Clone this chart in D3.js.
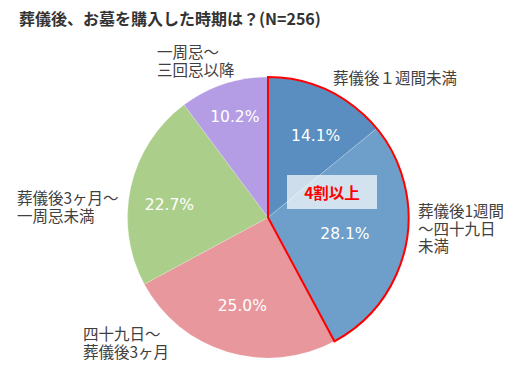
<!DOCTYPE html>
<html><head><meta charset="utf-8">
<script src="https://cdn.jsdelivr.net/npm/d3@7"></script>
<style>body{margin:0;background:#fff}svg{display:block}</style>
</head><body>
<svg id="c" width="525" height="380"></svg>
<script>
const title = "葬儀後、お墓を購入した時期は？(N=256)";
const categories = ["葬儀後１週間未満", "葬儀後1週間～四十九日未満", "四十九日～葬儀後3ヶ月", "葬儀後3ヶ月～一周忌未満", "一周忌～三回忌以降"];
const categoryLines = [["葬儀後１週間未満"], ["葬儀後1週間", "～四十九日", "未満"], ["四十九日～", "葬儀後3ヶ月"], ["葬儀後3ヶ月～", "一周忌未満"], ["一周忌～", "三回忌以降"]];
const values = [14.1, 28.1, 25.0, 22.7, 10.2];
const colors = ["#5a8ec0", "#6d9fca", "#e8979c", "#abcf8b", "#b59de5"];
const highlightLabel = "4割以上";
const highlightCount = 2;

// layout (text anchors, left x / first-line center y)
const labelPos = [[333, 77], [418, 210], [83, 333], [17, 197], [157, 51]];
// small nudges of percent labels from the arc centroid
const pctNudge = [[8, 2], [-14, -2], [1, 0], [-8, 8], [-4, -12]];

const svg = d3.select("#c");
const cx = 268, cy = 217.5, R = 140.5;
const font = "'Noto Sans CJK JP', 'DejaVu Sans', sans-serif";

svg.append("text").attr("x", 19).attr("y", 18).attr("dominant-baseline", "central")
  .attr("font-family", font).attr("font-size", 16).attr("font-weight", "bold")
  .attr("fill", "#333").text(title);

const pie = d3.pie().sort(null).value(d => d);
const arcs = pie(values);
const arc = d3.arc().innerRadius(0).outerRadius(R);
const g = svg.append("g").attr("transform", `translate(${cx},${cy})`);

g.selectAll("path.s").data(arcs).join("path").attr("class", "s")
  .attr("d", arc).attr("fill", (d, i) => colors[i])
  .attr("stroke", "rgba(255,255,255,0.25)").attr("stroke-width", 0.8);

// highlight outline
const hEnd = arcs[highlightCount - 1].endAngle;
g.append("path").attr("d", d3.arc()({innerRadius: 0, outerRadius: R, startAngle: 0, endAngle: hEnd}))
  .attr("fill", "none").attr("stroke", "#ff0000").attr("stroke-width", 2).attr("stroke-linejoin", "miter");

// percent labels
const lab = d3.arc().innerRadius(R * 0.66).outerRadius(R * 0.66);
g.selectAll("text.p").data(arcs).join("text").attr("class", "p")
  .attr("transform", (d, i) => {
    const c = lab.centroid(d);
    return `translate(${c[0] + pctNudge[i][0]},${c[1] + pctNudge[i][1]})`;
  })
  .attr("text-anchor", "middle").attr("dominant-baseline", "central")
  .attr("font-family", "'DejaVu Sans', sans-serif").attr("font-size", 15.5)
  .attr("fill", "#fff").text(d => d.value.toFixed(1) + "%");

// highlight box
svg.append("rect").attr("x", 287).attr("y", 175).attr("width", 90).attr("height", 34)
  .attr("fill", "#fff").attr("fill-opacity", 0.7);
svg.append("text").attr("x", 332).attr("y", 192).attr("text-anchor", "middle").attr("dominant-baseline", "central")
  .attr("font-family", font).attr("font-size", 15.5).attr("font-weight", "bold")
  .attr("fill", "#ff0000").text(highlightLabel);

// category labels
categoryLines.forEach((lines, i) => {
  lines.forEach((s, j) => {
    svg.append("text").attr("font-family", font).attr("font-size", 15.5).attr("fill", "#404040")
      .attr("x", labelPos[i][0]).attr("y", labelPos[i][1] + j * 17.5)
      .attr("dominant-baseline", "central").text(s);
  });
});
</script>
</body></html>
